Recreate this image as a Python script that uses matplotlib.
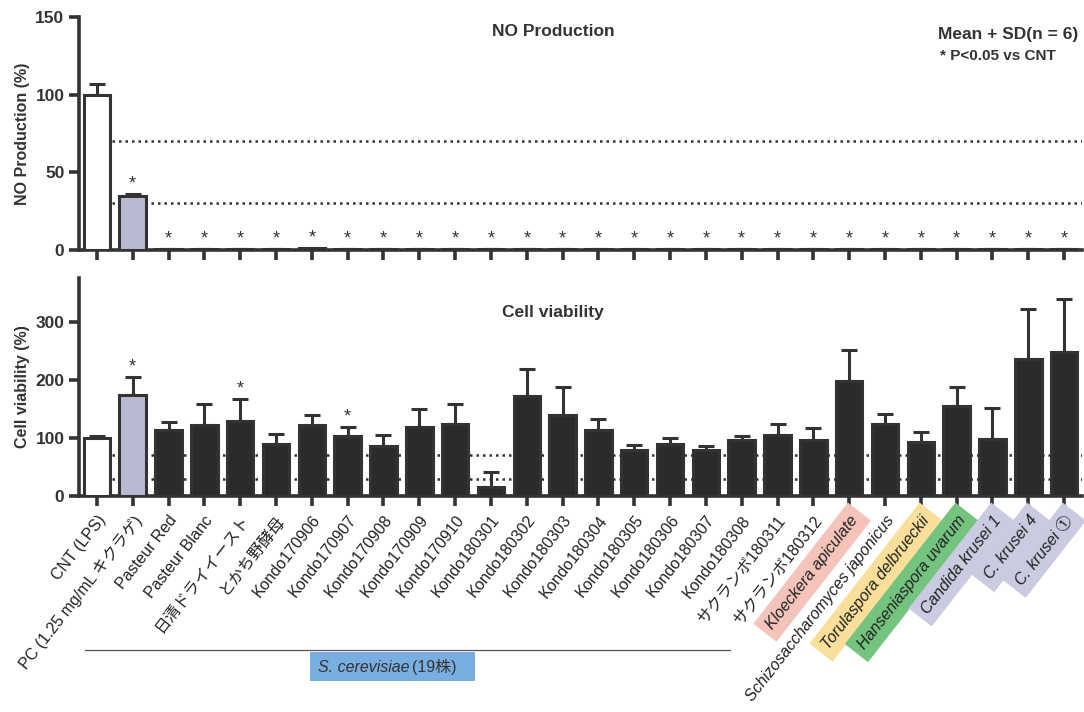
import matplotlib
matplotlib.use("Agg")
import matplotlib.pyplot as plt
from matplotlib.patches import Rectangle
from matplotlib.lines import Line2D
import numpy as np

plt.rcParams['font.family'] = ['Liberation Sans', 'Noto Sans CJK JP', 'DejaVu Sans']

categories = [
    "CNT (LPS)", "PC (1.25 mg/mL キクラゲ)", "Pasteur Red", "Pasteur Blanc",
    "日清ドライイースト", "とかち野酵母", "Kondo170906", "Kondo170907", "Kondo170908",
    "Kondo170909", "Kondo170910", "Kondo180301", "Kondo180302", "Kondo180303",
    "Kondo180304", "Kondo180305", "Kondo180306", "Kondo180307", "Kondo180308",
    "サクランボ180311", "サクランボ180312", "Kloeckera apiculate",
    "Schizosaccharomyces japonicus", "Torulaspora delbrueckii", "Hanseniaspora uvarum",
    "Candida krusei 1", "C. krusei 4", "C. krusei ①",
]
italic_labels = ["Kloeckera apiculate", "Schizosaccharomyces japonicus",
                 "Torulaspora delbrueckii", "Hanseniaspora uvarum",
                 "Candida krusei 1", "C. krusei 4", "C. krusei ①"]
label_bg = {"Kloeckera apiculate": "#f4c4bb", "Torulaspora delbrueckii": "#f9df9a",
            "Hanseniaspora uvarum": "#74c47f", "Candida krusei 1": "#cacae0",
            "C. krusei 4": "#cacae0", "C. krusei ①": "#cacae0"}

no_mean = [100, 35, 0.5, 0.5, 0.5, 0.5, 1.5, 0.5, 0.5, 0.5, 0.5, 0.5, 0.5, 0.5,
           0.5, 0.5, 0.5, 0.5, 0.5, 0.5, 0.5, 0.5, 0.5, 0.5, 0.5, 0.5, 0.5, 0.5]
no_sd = [7, 1, 0, 0, 0, 0, 0, 0, 0, 0, 0, 0, 0, 0,
         0, 0, 0, 0, 0, 0, 0, 0, 0, 0, 0, 0, 0, 0]
no_sig = list(range(1, 28))

vi_mean = [100, 175, 114, 122, 129, 90, 123, 103, 87, 119, 125, 16, 172, 139,
           114, 79, 90, 79, 96, 106, 97, 199, 124, 94, 156, 98, 236, 248]
vi_sd = [3, 30, 14, 37, 38, 17, 16, 16, 19, 31, 34, 25, 47, 49,
         18, 9, 10, 8, 8, 19, 21, 53, 17, 16, 32, 54, 87, 92]
vi_sig = [1, 4, 7]

thresholds = [70, 30]

W, H = 1084, 712
fig = plt.figure(figsize=(W / 100, H / 100), dpi=100)

def fx(px):
    return px / W

def fy(py):
    return 1 - py / H

dark = "#2b2b2b"
edge = "#333333"
colors = ["white", "#b9b9d2"] + [dark] * (len(categories) - 2)
x = np.arange(len(categories))

ax1 = fig.add_axes([fx(79), fy(250), fx(1082) - fx(79), fy(17) - fy(250)])
ax2 = fig.add_axes([fx(79), fy(496), fx(1082) - fx(79), fy(278) - fy(496)])

def style(ax, ylim, yticks):
    ax.set_xlim(-0.5, 27.5)
    ax.set_ylim(*ylim)
    ax.set_yticks(yticks)
    for s in ["top", "right"]:
        ax.spines[s].set_visible(False)
    for s in ["left", "bottom"]:
        ax.spines[s].set_linewidth(2.6)
        ax.spines[s].set_color(edge)
    ax.tick_params(axis="both", direction="out", length=7, width=2.6, color=edge,
                   labelsize=12.5)
    for t in ax.get_yticklabels():
        t.set_fontweight("bold")
        t.set_color("#333333")
    ax.set_xticks(x)

# top
style(ax1, (0, 150), [0, 50, 100, 150])
for t in thresholds:
    ax1.hlines(t, 0.42, 27.5, colors="#333333", linestyles=(0, (1, 1.6)), lw=1.8, zorder=1)
ax1.bar(x, no_mean, width=0.74, color=colors, edgecolor=edge, linewidth=2.2, zorder=3)
ax1.errorbar(x, no_mean, yerr=[np.zeros(len(x)), no_sd], fmt="none", ecolor=edge,
             elinewidth=2.2, capsize=6, capthick=2.2, zorder=2)
for i in no_sig:
    ax1.annotate("*", (x[i], no_mean[i] + no_sd[i]), xytext=(0, 1),
                 textcoords="offset points", ha="center", va="bottom",
                 fontsize=13, color="#333333")
ax1.set_xticklabels([])
ax1.set_ylabel("NO Production (%)", fontsize=11.5, fontweight="bold", color="#333333",
               labelpad=4)

# bottom
style(ax2, (0, 376), [0, 100, 200, 300])
for t in thresholds:
    ax2.hlines(t, 0.42, 27.5, colors="#333333", linestyles=(0, (1, 1.6)), lw=1.8, zorder=1)
ax2.bar(x, vi_mean, width=0.74, color=colors, edgecolor=edge, linewidth=2.2, zorder=3)
ax2.errorbar(x, vi_mean, yerr=[np.zeros(len(x)), vi_sd], fmt="none", ecolor=edge,
             elinewidth=2.2, capsize=6, capthick=2.2, zorder=2)
for i in vi_sig:
    ax2.annotate("*", (x[i], vi_mean[i] + vi_sd[i]), xytext=(0, 1),
                 textcoords="offset points", ha="center", va="bottom",
                 fontsize=13, color="#333333")
ax2.set_ylabel("Cell viability (%)", fontsize=11.5, fontweight="bold", color="#333333",
               labelpad=4)
ax2.set_xticklabels(categories, rotation=52, ha="right", va="top",
                    rotation_mode="anchor", fontsize=11.5)
ax2.tick_params(axis="x", pad=5)
for lbl in ax2.get_xticklabels():
    txt = lbl.get_text()
    lbl.set_color("#222222")
    if txt in italic_labels:
        lbl.set_fontstyle("italic")
    if txt in label_bg:
        lbl.set_bbox(dict(boxstyle="square,pad=0.45", facecolor=label_bg[txt],
                          edgecolor="none"))

# annotations
fig.text(fx(553), fy(32), "NO Production", ha="center", va="center",
         fontsize=12.5, fontweight="bold", color="#333333")
fig.text(fx(553), fy(313), "Cell viability", ha="center", va="center",
         fontsize=12.5, fontweight="bold", color="#333333")
fig.text(fx(1078), fy(35), "Mean + SD(n = 6)", ha="right", va="center",
         fontsize=12.5, fontweight="bold", color="#333333")
fig.text(fx(940), fy(56), "* P<0.05 vs CNT", ha="left", va="center",
         fontsize=11, fontweight="bold", color="#333333")

# S. cerevisiae group
fig.add_artist(Line2D([fx(85), fx(730)], [fy(650), fy(650)], color="#555555", lw=0.9))
fig.add_artist(Rectangle((fx(310), fy(681)), fx(475) - fx(310), fy(652) - fy(681),
                         transform=fig.transFigure, facecolor="#78aee0",
                         edgecolor="none", zorder=-1))
t1 = fig.text(fx(318), fy(667), "S. cerevisiae", ha="left", va="center", fontsize=11.5,
              fontstyle="italic", color="#333333")
ax2.annotate("(19株)", xy=(1, 0.5), xycoords=t1, xytext=(2, 0),
             textcoords="offset points", ha="left", va="center", fontsize=11.5,
             color="#333333", annotation_clip=False, zorder=5)

fig.savefig("out.png", dpi=100)
